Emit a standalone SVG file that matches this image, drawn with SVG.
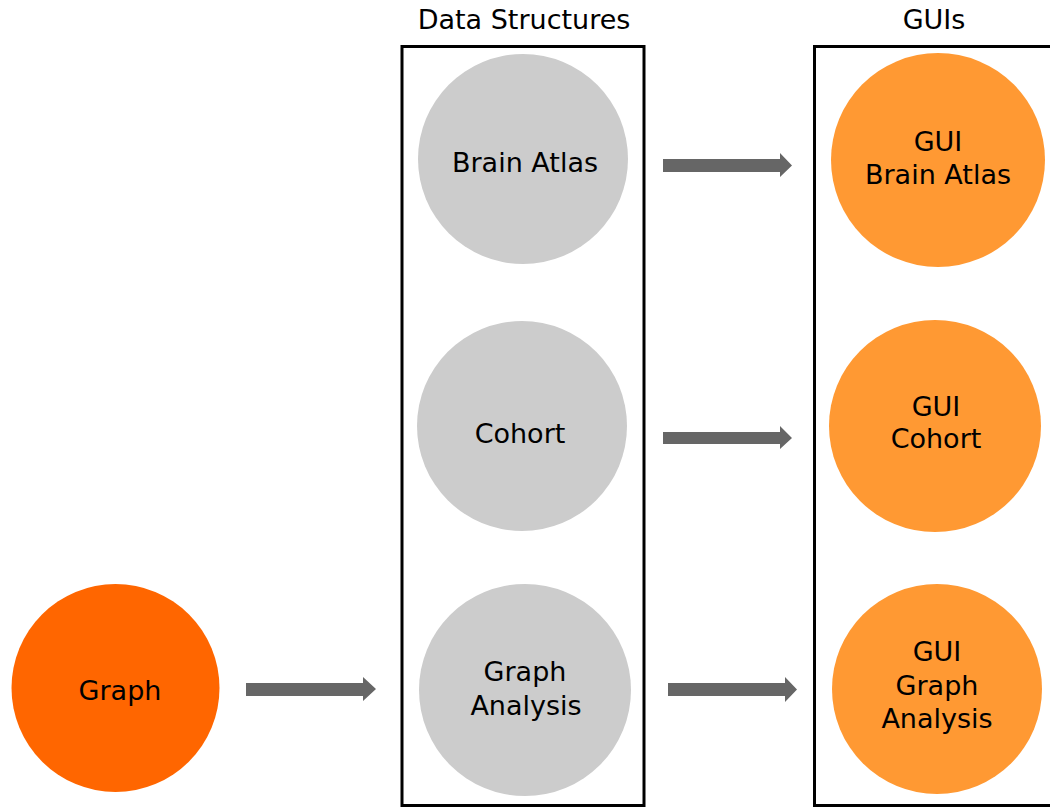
<svg xmlns="http://www.w3.org/2000/svg" width="1050" height="808" viewBox="0 0 1050 808">
<style>
text{font-family:"DejaVu Sans","Liberation Sans",sans-serif;font-size:27px;fill:#000;text-anchor:middle}
.box{fill:none;stroke:#000;stroke-width:3}
.ds{fill:#cccccc}
.gui{fill:#ff9933}
.src{fill:#ff6600}
.arr{fill:#666666}
</style>
<rect width="1050" height="808" fill="#fff"/>
<g id="group-data-structures">
<rect class="box" x="402" y="46.5" width="242" height="759"/>
<text x="524" y="29">Data Structures</text>
</g>
<g id="group-guis">
<rect class="box" x="814.5" y="46.5" width="240" height="759"/>
<text x="934" y="29">GUIs</text>
</g>
<g id="node-graph">
<circle class="src" cx="115.5" cy="688" r="104"/>
<text x="120" y="700">Graph</text>
</g>
<g id="node-brain-atlas">
<circle class="ds" cx="523" cy="159" r="105"/>
<text x="525" y="172">Brain Atlas</text>
</g>
<g id="node-cohort">
<circle class="ds" cx="522" cy="426" r="105"/>
<text x="520" y="443">Cohort</text>
</g>
<g id="node-graph-analysis">
<circle class="ds" cx="525" cy="690" r="106"/>
<text x="525" y="681">Graph</text>
<text x="526" y="715">Analysis</text>
</g>
<g id="node-gui-brain-atlas">
<circle class="gui" cx="938" cy="160" r="107"/>
<text x="938" y="151">GUI</text>
<text x="938" y="184">Brain Atlas</text>
</g>
<g id="node-gui-cohort">
<circle class="gui" cx="935" cy="426" r="106"/>
<text x="936" y="416">GUI</text>
<text x="936" y="448">Cohort</text>
</g>
<g id="node-gui-graph-analysis">
<circle class="gui" cx="937" cy="689" r="105"/>
<text x="937" y="661">GUI</text>
<text x="937" y="695">Graph</text>
<text x="937" y="728">Analysis</text>
</g>
<g id="connectors">
<polygon class="arr" points="663,159 780,159 780,153 792,165.5 780,177 780,172 663,172"/>
<polygon class="arr" points="663,432 780,432 780,426 792,438 780,449 780,444 663,444"/>
<polygon class="arr" points="668,683 785,683 785,677 797,689.5 785,702 785,696 668,696"/>
<polygon class="arr" points="246,683 363,683 363,677 376,689 363,701 363,696 246,696"/>
</g>
</svg>
